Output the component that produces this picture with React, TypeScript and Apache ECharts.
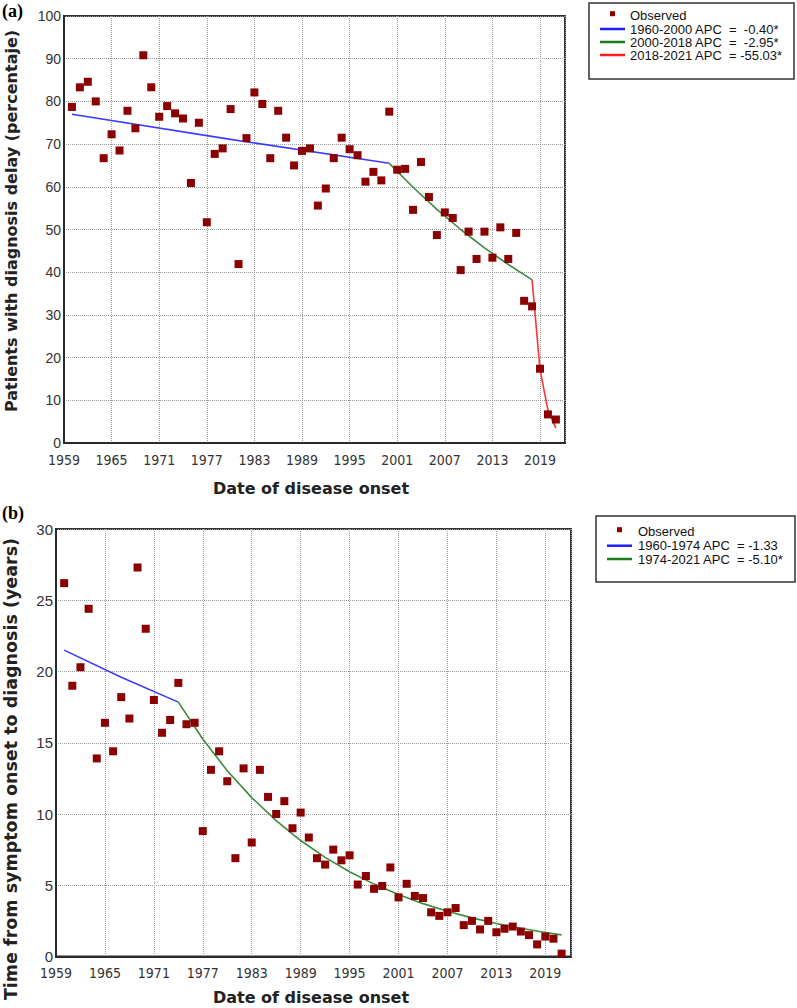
import React, { useEffect, useRef } from "react";
import * as echarts from "echarts";

const BASE_YEAR = 1959;
const years: number[] = Array.from({ length: 62 }, (_, i) => 1960 + i);
const xTickLabels = ["1959", "1965", "1971", "1977", "1983", "1989", "1995", "2001", "2007", "2013", "2019"];

// Panel (a): patients with diagnosis delay (%)
const pctObserved = [
  78.7, 83.3, 84.6, 80.0, 66.7, 72.3, 68.5, 77.8, 73.7, 90.8,
  83.3, 76.4, 78.9, 77.2, 76.0, 60.9, 75.0, 51.7, 67.7, 69.0,
  78.2, 41.9, 71.4, 82.1, 79.4, 66.7, 77.8, 71.5, 65.0, 68.4,
  69.0, 55.6, 59.6, 66.7, 71.5, 68.8, 67.4, 61.2, 63.5, 61.5,
  77.6, 64.0, 64.2, 54.6, 65.8, 57.6, 48.7, 54.0, 52.7, 40.5,
  49.5, 43.1, 49.5, 43.4, 50.5, 43.1, 49.2, 33.3, 32.0, 17.4,
  6.7, 5.5,
];
const aSeg1Years = [1960, 1980, 2000];
const aSeg1Vals = [77.0, 71.1, 65.5];
const aSeg2Years = [2000, 2003, 2006, 2009, 2012, 2015, 2018];
const aSeg2Vals = [65.5, 59.9, 54.7, 50.0, 45.7, 41.8, 38.2];
const aSeg3Years = [2018, 2019, 2020, 2021];
const aSeg3Vals = [38.2, 17.2, 7.7, 3.5];
const aLegend = ["Observed", "1960-2000 APC  =  -0.40*", "2000-2018 APC  =  -2.95*", "2018-2021 APC  = -55.03*"];

// Panel (b): time from symptom onset to diagnosis (years)
const timeObserved = [
  26.2, 19.0, 20.3, 24.4, 13.9, 16.4, 14.4, 18.2, 16.7, 27.3,
  23.0, 18.0, 15.7, 16.6, 19.2, 16.3, 16.4, 8.8, 13.1, 14.4,
  12.3, 6.9, 13.2, 8.0, 13.1, 11.2, 10.0, 10.9, 9.0, 10.1,
  8.35, 6.9, 6.45, 7.5, 6.75, 7.1, 5.05, 5.65, 4.75, 4.95,
  6.25, 4.15, 5.1, 4.25, 4.1, 3.1, 2.85, 3.1, 3.4, 2.2,
  2.5, 1.9, 2.5, 1.7, 1.95, 2.1, 1.75, 1.5, 0.85, 1.4,
  1.25, 0.2,
];
const bSeg1Years = [1960, 1967, 1974];
const bSeg1Vals = [21.5, 19.6, 17.85];
const bSeg2Years = [1974, 1977, 1980, 1983, 1986, 1989, 1992, 1995, 1998, 2001, 2004, 2007, 2010, 2013, 2016, 2019, 2021];
const bSeg2Vals = [17.85, 15.26, 13.04, 11.15, 9.53, 8.14, 6.96, 5.95, 5.08, 4.35, 3.71, 3.18, 2.71, 2.32, 1.98, 1.69, 1.52];
const bLegend = ["Observed", "1960-1974 APC  = -1.33", "1974-2021 APC  = -5.10*"];

const OBS_COLOR = "#8b0000";
const BLUE = "#3b3bff";
const GREEN = "#3e8a3e";
const RED = "#ff3434";
const LEG_BLUE = "#1f1fff";
const LEG_GREEN = "#1d7a1d";
const LEG_RED = "#ff1f1f";

const pairs = (xs: number[], vs: number[]) => xs.map((y, i) => [y - BASE_YEAR, vs[i]]);

const TICK_FONT = "'Liberation Sans Narrow', 'DejaVu Sans Condensed', 'Liberation Sans', sans-serif";
const TITLE_FONT = "'DejaVu Sans', Verdana, sans-serif";
const LEG_FONT = "'Liberation Sans', Arial, sans-serif";

function makeXAxis(gridIndex: number, margin: number) {
  return {
    type: "value",
    gridIndex,
    min: 0,
    max: 63.15,
    interval: 6,
    axisLine: { show: true, onZero: false, lineStyle: { color: "#2a2a2a", width: 2 } },
    axisTick: { show: false },
    splitLine: { show: true, lineStyle: { color: "#9a9a9a", type: [1, 1], width: 1 } },
    axisLabel: {
      margin,
      color: "#333",
      fontSize: 14,
      fontFamily: TICK_FONT,
      showMaxLabel: false,
      formatter: (v: number) => {
        const idx = Math.round(v / 6);
        return Math.abs(v - idx * 6) < 1e-6 && xTickLabels[idx] ? xTickLabels[idx] : "";
      },
    },
  };
}

function makeYAxis(gridIndex: number, max: number, interval: number, fontSize: number) {
  return {
    type: "value",
    gridIndex,
    min: 0,
    max,
    interval,
    axisLine: { show: true, lineStyle: { color: "#2a2a2a", width: 2 } },
    axisTick: { show: false },
    splitLine: { show: true, lineStyle: { color: "#9a9a9a", type: [1, 1], width: 1 } },
    axisLabel: { margin: 3, color: "#333", fontSize, fontFamily: LEG_FONT },
  };
}

function lineSeries(name: string, data: number[][], color: string, idx: number) {
  return {
    name,
    type: "line",
    xAxisIndex: idx,
    yAxisIndex: idx,
    data,
    symbol: "none",
    showSymbol: false,
    lineStyle: { color, width: 1.6 },
    z: 3,
    silent: true,
  };
}

function legendGraphic(
  x: number,
  y: number,
  w: number,
  h: number,
  rows: number[],
  lineX: number,
  textX: number,
  labels: string[],
  colors: string[]
) {
  const children: any[] = [
    {
      type: "rect",
      shape: { x, y, width: w, height: h },
      style: { fill: "#fff", stroke: "#333", lineWidth: 1.5 },
    },
    {
      type: "rect",
      shape: { x: lineX + 12.5 - 2.5, y: rows[0] - 4.5, width: 5, height: 5 },
      style: { fill: OBS_COLOR },
    },
    {
      type: "text",
      x: textX,
      y: rows[0],
      style: { text: labels[0], fontSize: 13, fontFamily: LEG_FONT, fill: "#111", verticalAlign: "middle" },
    },
  ];
  for (let i = 1; i < labels.length; i++) {
    children.push({
      type: "line",
      shape: { x1: lineX, y1: rows[i], x2: lineX + 25, y2: rows[i] },
      style: { stroke: colors[i - 1], lineWidth: 2.5 },
    });
    children.push({
      type: "text",
      x: textX,
      y: rows[i],
      style: { text: labels[i], fontSize: 13, fontFamily: LEG_FONT, fill: "#111", verticalAlign: "middle" },
    });
  }
  return { type: "group", children };
}

export default function App() {
  const ref = useRef<HTMLDivElement>(null);

  useEffect(() => {
    if (!ref.current) return;
    const chart = echarts.init(ref.current, null, { renderer: "svg" });
    const obsA = years.map((y, i) => [y - BASE_YEAR, pctObserved[i]]);
    const obsB = years.map((y, i) => [y - BASE_YEAR, timeObserved[i]]);

    chart.setOption({
      animation: false,
      backgroundColor: "#fff",
      grid: [
        { left: 64, top: 16, width: 501, height: 427, show: true, borderColor: "#333", borderWidth: 2, backgroundColor: "transparent" },
        { left: 56, top: 529, width: 515, height: 427.5, show: true, borderColor: "#333", borderWidth: 2, backgroundColor: "transparent" },
      ],
      xAxis: [makeXAxis(0, 10), makeXAxis(1, 9)],
      yAxis: [makeYAxis(0, 100, 10, 14), makeYAxis(1, 30, 5, 15)],
      series: [
        lineSeries(aLegend[1], pairs(aSeg1Years, aSeg1Vals), BLUE, 0),
        lineSeries(aLegend[2], pairs(aSeg2Years, aSeg2Vals), GREEN, 0),
        lineSeries(aLegend[3], pairs(aSeg3Years, aSeg3Vals), RED, 0),
        {
          name: "Observed (a)",
          type: "scatter",
          xAxisIndex: 0,
          yAxisIndex: 0,
          data: obsA,
          symbol: "rect",
          symbolSize: 8,
          itemStyle: { color: OBS_COLOR, opacity: 1 },
          z: 4,
          silent: true,
        },
        lineSeries(bLegend[1], pairs(bSeg1Years, bSeg1Vals), BLUE, 1),
        lineSeries(bLegend[2], pairs(bSeg2Years, bSeg2Vals), GREEN, 1),
        {
          name: "Observed (b)",
          type: "scatter",
          xAxisIndex: 1,
          yAxisIndex: 1,
          data: obsB,
          symbol: "rect",
          symbolSize: 8,
          itemStyle: { color: OBS_COLOR, opacity: 1 },
          z: 4,
          silent: true,
        },
      ],
      graphic: [
        {
          type: "text",
          x: 2,
          y: 11,
          style: { text: "(a)", fontSize: 18, fontWeight: "bold", fontFamily: "'Liberation Serif', 'Times New Roman', serif", fill: "#000", verticalAlign: "middle" },
        },
        {
          type: "text",
          x: 2,
          y: 513,
          style: { text: "(b)", fontSize: 18, fontWeight: "bold", fontFamily: "'Liberation Serif', 'Times New Roman', serif", fill: "#000", verticalAlign: "middle" },
        },
        {
          type: "text",
          x: 11,
          y: 221,
          rotation: Math.PI / 2,
          style: { text: "Patients with diagnosis delay (percentaje)", fontSize: 16, fontWeight: "bold", fontFamily: TITLE_FONT, fill: "#222", align: "center", verticalAlign: "middle" },
        },
        {
          type: "text",
          x: 311,
          y: 488,
          style: { text: "Date of disease onset", fontSize: 16, fontWeight: "bold", fontFamily: TITLE_FONT, fill: "#222", align: "center", verticalAlign: "middle" },
        },
        {
          type: "text",
          x: 11,
          y: 769,
          rotation: Math.PI / 2,
          style: { text: "Time from symptom onset to diagnosis (years)", fontSize: 17.5, fontWeight: "bold", fontFamily: TITLE_FONT, fill: "#222", align: "center", verticalAlign: "middle" },
        },
        {
          type: "text",
          x: 311,
          y: 997,
          style: { text: "Date of disease onset", fontSize: 16, fontWeight: "bold", fontFamily: TITLE_FONT, fill: "#222", align: "center", verticalAlign: "middle" },
        },
        legendGraphic(589, 3, 205, 76, [15.7, 29, 42, 55], 600, 630, aLegend, [LEG_BLUE, LEG_GREEN, LEG_RED]),
        legendGraphic(596, 516, 199, 66, [531.7, 545.7, 559], 607, 638, bLegend, [LEG_BLUE, LEG_GREEN]),
      ],
    });

    return () => chart.dispose();
  }, []);

  return (
    <div
      ref={ref}
      style={{ position: "absolute", left: 0, top: 0, width: 797, height: 1008, background: "#fff" }}
    />
  );
}
